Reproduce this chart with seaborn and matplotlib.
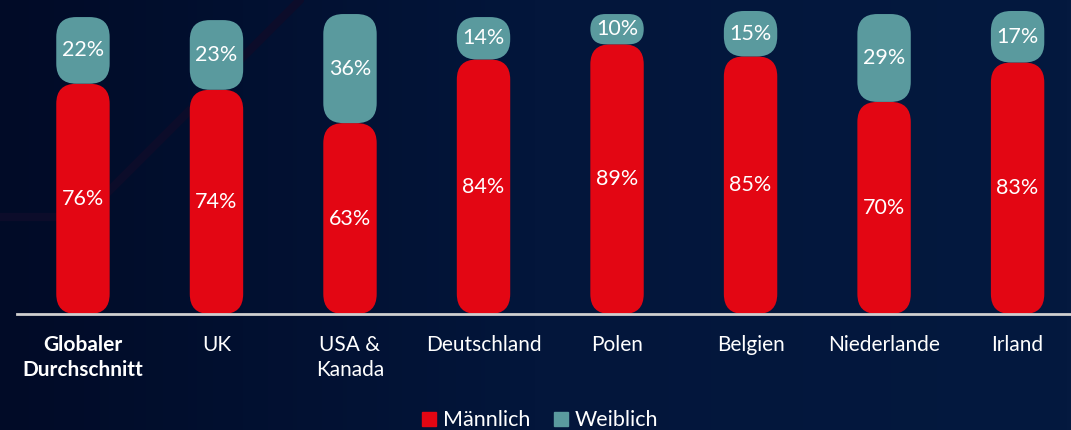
import numpy as np
import pandas as pd
import matplotlib.pyplot as plt
import seaborn as sns
from matplotlib.patches import FancyBboxPatch, Patch
from matplotlib.colors import LinearSegmentedColormap
from matplotlib.lines import Line2D

# Daten
laender = ['Globaler\nDurchschnitt', 'UK', 'USA &\nKanada', 'Deutschland',
           'Polen', 'Belgien', 'Niederlande', 'Irland']
maennlich = [76, 74, 63, 84, 89, 85, 70, 83]
weiblich = [22, 23, 36, 14, 10, 15, 29, 17]

rot = '#e30613'
teal = '#5a9a9e'

df = pd.DataFrame({'Land': laender, 'Männlich': maennlich, 'Weiblich': weiblich})
df['Gesamt'] = df['Männlich'] + df['Weiblich']

sns.set_theme(style='white')
plt.rcParams['font.family'] = ['Lato', 'DejaVu Sans']

W, H = 1071, 430
fig = plt.figure(figsize=(W / 100, H / 100), dpi=100)

# Hintergrund (Verlauf)
bg = fig.add_axes([0, 0, 1, 1], zorder=-10)
cmap = LinearSegmentedColormap.from_list('bg', ['#010b27', '#03163b', '#04193f'])
bg.imshow(np.linspace(0, 1, 256).reshape(1, -1), aspect='auto', cmap=cmap, extent=[0, 1, 0, 1])
bg.axis('off')
fig.add_artist(Line2D([0, 83 / W, 300 / W], [1 - 217 / H, 1 - 217 / H, 1.0],
                      color='#0c0c2a', lw=6, zorder=-5))

ax = fig.add_axes([17 / W, 116 / H, 1054 / W, 303 / H])
ax.set_facecolor('none')

sns.barplot(data=df, x='Land', y='Gesamt', color=teal, width=0.4, saturation=1, ax=ax)
sns.barplot(data=df, x='Land', y='Männlich', color=rot, width=0.4, saturation=1, ax=ax)

xlim = (-0.494, 7.40)
ax.set_xlim(*xlim)
ax.set_ylim(0, 100)

# Balken durch abgerundete Formen ersetzen
x_px = (xlim[1] - xlim[0]) / 1054
y_px = 100 / 303
asp = y_px / x_px
bars = list(ax.patches)
teal_bars, red_bars = bars[:len(laender)], bars[len(laender):]
for p in bars:
    p.remove()

def pill(x0, y0, w, h, color):
    r_px = min(20, (w / x_px) / 2, (h / y_px) / 2)
    ax.add_patch(FancyBboxPatch((x0, y0), w, h,
                                boxstyle=f'round,pad=0,rounding_size={r_px * x_px}',
                                mutation_aspect=asp, facecolor=color, edgecolor='none'))

for tb, rb, m, f in zip(teal_bars, red_bars, maennlich, weiblich):
    x0, w = rb.get_x(), rb.get_width()
    pill(x0, 0, w, rb.get_height(), rot)
    pill(x0, rb.get_height(), w, tb.get_height() - rb.get_height(), teal)
    xc = x0 + w / 2
    ax.text(xc, m / 2, f'{m}%', ha='center', va='center', color='white', fontsize=15.5)
    ax.text(xc, m + f / 2, f'{f}%', ha='center', va='center', color='white', fontsize=15.5)

ax.set_xlabel('')
ax.set_ylabel('')
ax.set_yticks([])
ax.tick_params(axis='x', length=0, pad=15, labelsize=15, colors='white')
for lbl in ax.get_xticklabels():
    lbl.set_linespacing(1.3)
ax.get_xticklabels()[0].set_fontweight('bold')

for s in ['top', 'right', 'left']:
    ax.spines[s].set_visible(False)
ax.spines['bottom'].set_color('#d0d0d0')
ax.spines['bottom'].set_linewidth(2)

fig.legend(handles=[Patch(color=rot, label='Männlich'), Patch(color=teal, label='Weiblich')],
           loc='lower center', bbox_to_anchor=(0.504, -0.046), ncol=2, frameon=False,
           fontsize=15.5, labelcolor='white', handlelength=0.66, handleheight=0.66,
           handletextpad=0.3, columnspacing=1.1)

fig.savefig('out.png', dpi=100)
